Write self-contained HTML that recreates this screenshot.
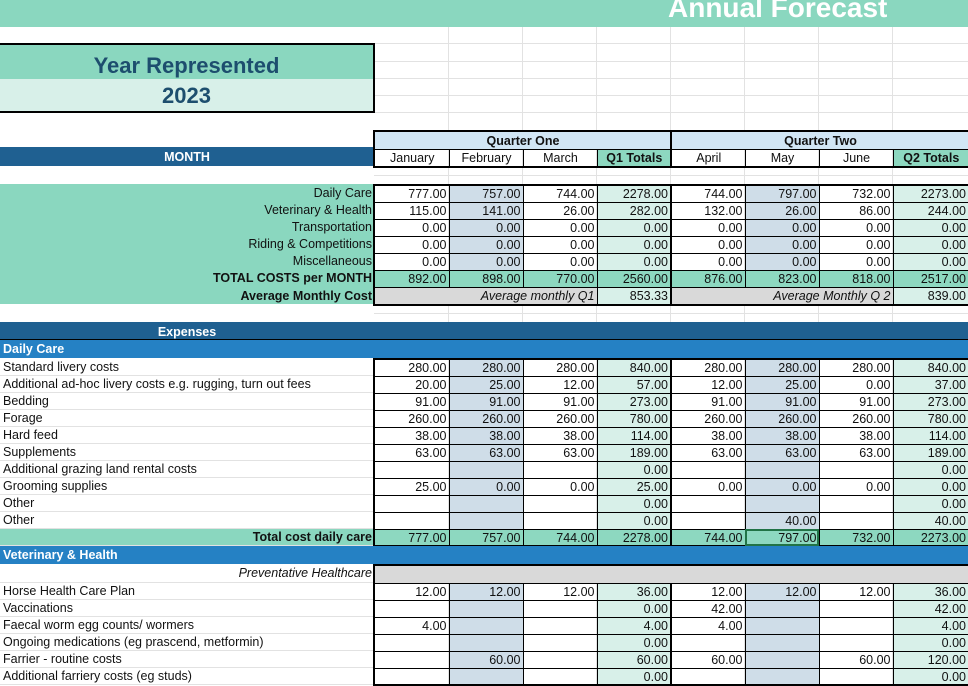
<!DOCTYPE html>
<html><head><meta charset="utf-8"><style>
*{margin:0;padding:0;box-sizing:border-box}
body{width:968px;height:686px;overflow:hidden;background:#fff;font-family:"Liberation Sans",sans-serif;font-size:12.5px;color:#111;position:relative}
.a{position:absolute}
.vl{position:absolute;top:26px;width:1px;height:660px;background:#e2e2e2}
.hl{position:absolute;left:374px;width:594px;height:1px;background:#e2e2e2}
table{border-collapse:collapse;table-layout:fixed;position:absolute}
td{padding:1px 2px 0 3px;line-height:14px;overflow:hidden;white-space:nowrap}
.v td{border:1px solid #000;text-align:right}
.v td.c1{border-left:2px solid #000}
.v td.c4{border-right:2px solid #000}
.v td.c8{border-right:2px solid #000}
.v tr:first-child td{border-top:2px solid #000}
.v tr:last-child td{border-bottom:2px solid #000}
.c2,.c6{background:#cfdde8}
.c4,.c8{background:#d8f0e9}
.tot td{background:#8dd8c0 !important}
.gray{background:#d9d9d9 !important;font-style:italic}
.l td{border-bottom:1px solid #e2e2e2}
.nl td{border:none}
</style></head><body>
<div class="vl" style="left:448px"></div><div class="vl" style="left:522px"></div><div class="vl" style="left:596px"></div><div class="vl" style="left:670px"></div><div class="vl" style="left:744px"></div><div class="vl" style="left:818px"></div><div class="vl" style="left:892px"></div>
<div class="hl" style="top:43px"></div><div class="hl" style="top:61px"></div><div class="hl" style="top:78px"></div><div class="hl" style="top:95px"></div><div class="hl" style="top:112px"></div><div class="hl" style="top:175px"></div><div class="hl" style="top:313px"></div>
<div class="a" style="left:0;top:0;width:968px;height:27px;background:#8ad7bf"></div>
<div class="a" style="left:668px;top:-8px;color:#fff;font-weight:bold;font-size:28px">Annual Forecast</div>

<div class="a" style="left:0;top:43px;width:375px;height:70px;border:2px solid #000;border-left:none">
<div style="height:34px;background:#8ad7bf;color:#1d4e6e;font-weight:bold;font-size:22px;text-align:center;line-height:42px">Year Represented</div>
<div style="height:32px;background:#d8f0e9;color:#1d4e6e;font-weight:bold;font-size:22px;text-align:center;line-height:34px">2023</div>
</div>

<div class="a" style="left:0;top:147px;width:374px;height:19px;background:#1f6091;color:#fff;font-weight:bold;text-align:center;line-height:20px">MONTH</div>
<table class="v" style="left:373px;top:130px;width:595px">
<colgroup><col style="width:75px"><col style="width:74px"><col style="width:74px"><col style="width:74px"><col style="width:74px"><col style="width:74px"><col style="width:74px"><col style="width:76px"></colgroup>
<tr style="height:18px"><td colspan="4" class="c1 c4" style="background:#d1e6f5;text-align:center;font-weight:bold">Quarter One</td><td colspan="4" class="c8" style="background:#d1e6f5;text-align:center;font-weight:bold">Quarter Two</td></tr>
<tr style="height:18px;text-align:center"><td class="c1" style="text-align:center">January</td><td style="text-align:center">February</td><td style="text-align:center">March</td><td class="c4" style="text-align:center;background:#8dd8c0;font-weight:bold">Q1 Totals</td><td style="text-align:center">April</td><td style="text-align:center">May</td><td style="text-align:center">June</td><td class="c8" style="text-align:center;background:#8dd8c0;font-weight:bold">Q2 Totals</td></tr>
</table>

<table class="nl" style="left:0;top:184px;width:374px;background:#8ad7bf;text-align:right">
<tr style="height:17px"><td style="text-align:right">Daily Care</td></tr>
<tr style="height:17px"><td style="text-align:right">Veterinary &amp; Health</td></tr>
<tr style="height:17px"><td style="text-align:right">Transportation</td></tr>
<tr style="height:17px"><td style="text-align:right">Riding &amp; Competitions</td></tr>
<tr style="height:17px"><td style="text-align:right">Miscellaneous</td></tr>
<tr style="height:17px"><td style="text-align:right;font-weight:bold">TOTAL COSTS per MONTH</td></tr>
<tr style="height:18px"><td style="text-align:right;font-weight:bold">Average Monthly Cost</td></tr>
</table>
<table class="v" style="left:373px;top:184px;width:595px">
<colgroup><col style="width:75px"><col style="width:74px"><col style="width:74px"><col style="width:74px"><col style="width:74px"><col style="width:74px"><col style="width:74px"><col style="width:76px"></colgroup>
<tr style="height:17px"><td class="c1">777.00</td><td class="c2">757.00</td><td>744.00</td><td class="c4">2278.00</td><td>744.00</td><td class="c6">797.00</td><td>732.00</td><td class="c8">2273.00</td></tr>
<tr style="height:17px"><td class="c1">115.00</td><td class="c2">141.00</td><td>26.00</td><td class="c4">282.00</td><td>132.00</td><td class="c6">26.00</td><td>86.00</td><td class="c8">244.00</td></tr>
<tr style="height:17px"><td class="c1">0.00</td><td class="c2">0.00</td><td>0.00</td><td class="c4">0.00</td><td>0.00</td><td class="c6">0.00</td><td>0.00</td><td class="c8">0.00</td></tr>
<tr style="height:17px"><td class="c1">0.00</td><td class="c2">0.00</td><td>0.00</td><td class="c4">0.00</td><td>0.00</td><td class="c6">0.00</td><td>0.00</td><td class="c8">0.00</td></tr>
<tr style="height:17px"><td class="c1">0.00</td><td class="c2">0.00</td><td>0.00</td><td class="c4">0.00</td><td>0.00</td><td class="c6">0.00</td><td>0.00</td><td class="c8">0.00</td></tr>
<tr style="height:17px" class="tot"><td class="c1">892.00</td><td>898.00</td><td>770.00</td><td class="c4">2560.00</td><td>876.00</td><td>823.00</td><td>818.00</td><td class="c8">2517.00</td></tr>
<tr style="height:18px"><td colspan="3" class="c1 gray">Average monthly Q1</td><td class="c4">853.33</td><td colspan="3" class="gray">Average Monthly Q 2</td><td class="c8">839.00</td></tr>
</table>

<div class="a" style="left:0;top:322px;width:968px;height:18px;background:#1f6091;color:#fff;font-weight:bold;line-height:20px;border-bottom:1px solid #000"><span style="position:absolute;left:0;width:374px;text-align:center">Expenses</span></div>
<div class="a" style="left:0;top:340px;width:968px;height:18px;background:#2581c4;color:#fff;font-weight:bold;line-height:19px;padding-left:3px">Daily Care</div>

<table class="l" style="left:0;top:358px;width:374px">
<tr style="height:17px"><td>Standard livery costs</td></tr>
<tr style="height:17px"><td>Additional ad-hoc livery costs e.g. rugging, turn out fees</td></tr>
<tr style="height:17px"><td>Bedding</td></tr>
<tr style="height:17px"><td>Forage</td></tr>
<tr style="height:17px"><td>Hard feed</td></tr>
<tr style="height:17px"><td>Supplements</td></tr>
<tr style="height:17px"><td>Additional grazing land rental costs</td></tr>
<tr style="height:17px"><td>Grooming supplies</td></tr>
<tr style="height:17px"><td>Other</td></tr>
<tr style="height:17px"><td>Other</td></tr>
<tr style="height:17px;background:#8ad7bf"><td style="text-align:right;font-weight:bold">Total cost daily care</td></tr>
</table>
<table class="v" style="left:373px;top:358px;width:595px">
<colgroup><col style="width:75px"><col style="width:74px"><col style="width:74px"><col style="width:74px"><col style="width:74px"><col style="width:74px"><col style="width:74px"><col style="width:76px"></colgroup>
<tr style="height:17px"><td class="c1">280.00</td><td class="c2">280.00</td><td>280.00</td><td class="c4">840.00</td><td>280.00</td><td class="c6">280.00</td><td>280.00</td><td class="c8">840.00</td></tr>
<tr style="height:17px"><td class="c1">20.00</td><td class="c2">25.00</td><td>12.00</td><td class="c4">57.00</td><td>12.00</td><td class="c6">25.00</td><td>0.00</td><td class="c8">37.00</td></tr>
<tr style="height:17px"><td class="c1">91.00</td><td class="c2">91.00</td><td>91.00</td><td class="c4">273.00</td><td>91.00</td><td class="c6">91.00</td><td>91.00</td><td class="c8">273.00</td></tr>
<tr style="height:17px"><td class="c1">260.00</td><td class="c2">260.00</td><td>260.00</td><td class="c4">780.00</td><td>260.00</td><td class="c6">260.00</td><td>260.00</td><td class="c8">780.00</td></tr>
<tr style="height:17px"><td class="c1">38.00</td><td class="c2">38.00</td><td>38.00</td><td class="c4">114.00</td><td>38.00</td><td class="c6">38.00</td><td>38.00</td><td class="c8">114.00</td></tr>
<tr style="height:17px"><td class="c1">63.00</td><td class="c2">63.00</td><td>63.00</td><td class="c4">189.00</td><td>63.00</td><td class="c6">63.00</td><td>63.00</td><td class="c8">189.00</td></tr>
<tr style="height:17px"><td class="c1"></td><td class="c2"></td><td></td><td class="c4">0.00</td><td></td><td class="c6"></td><td></td><td class="c8">0.00</td></tr>
<tr style="height:17px"><td class="c1">25.00</td><td class="c2">0.00</td><td>0.00</td><td class="c4">25.00</td><td>0.00</td><td class="c6">0.00</td><td>0.00</td><td class="c8">0.00</td></tr>
<tr style="height:17px"><td class="c1"></td><td class="c2"></td><td></td><td class="c4">0.00</td><td></td><td class="c6"></td><td></td><td class="c8">0.00</td></tr>
<tr style="height:17px"><td class="c1"></td><td class="c2"></td><td></td><td class="c4">0.00</td><td></td><td class="c6">40.00</td><td></td><td class="c8">40.00</td></tr>
<tr style="height:17px" class="tot"><td class="c1">777.00</td><td>757.00</td><td>744.00</td><td class="c4">2278.00</td><td>744.00</td><td style="outline:2px solid #217346;outline-offset:-2px">797.00</td><td>732.00</td><td class="c8">2273.00</td></tr>
</table>

<div class="a" style="left:0;top:546px;width:968px;height:18px;background:#2581c4;color:#fff;font-weight:bold;line-height:19px;padding-left:3px">Veterinary &amp; Health</div>

<table class="l" style="left:0;top:564px;width:374px">
<tr style="height:18px"><td style="text-align:right;font-style:italic">Preventative Healthcare</td></tr>
<tr style="height:17px"><td>Horse Health Care Plan</td></tr>
<tr style="height:17px"><td>Vaccinations</td></tr>
<tr style="height:17px"><td>Faecal worm egg counts/ wormers</td></tr>
<tr style="height:17px"><td>Ongoing medications (eg prascend, metformin)</td></tr>
<tr style="height:17px"><td>Farrier - routine costs</td></tr>
<tr style="height:17px"><td>Additional farriery costs (eg studs)</td></tr>
</table>
<table class="v" style="left:373px;top:564px;width:595px">
<colgroup><col style="width:75px"><col style="width:74px"><col style="width:74px"><col style="width:74px"><col style="width:74px"><col style="width:74px"><col style="width:74px"><col style="width:76px"></colgroup>
<tr style="height:18px"><td colspan="8" class="c1 c8" style="background:#d9d9d9"></td></tr>
<tr style="height:17px"><td class="c1">12.00</td><td class="c2">12.00</td><td>12.00</td><td class="c4">36.00</td><td>12.00</td><td class="c6">12.00</td><td>12.00</td><td class="c8">36.00</td></tr>
<tr style="height:17px"><td class="c1"></td><td class="c2"></td><td></td><td class="c4">0.00</td><td>42.00</td><td class="c6"></td><td></td><td class="c8">42.00</td></tr>
<tr style="height:17px"><td class="c1">4.00</td><td class="c2"></td><td></td><td class="c4">4.00</td><td>4.00</td><td class="c6"></td><td></td><td class="c8">4.00</td></tr>
<tr style="height:17px"><td class="c1"></td><td class="c2"></td><td></td><td class="c4">0.00</td><td></td><td class="c6"></td><td></td><td class="c8">0.00</td></tr>
<tr style="height:17px"><td class="c1"></td><td class="c2">60.00</td><td></td><td class="c4">60.00</td><td>60.00</td><td class="c6"></td><td>60.00</td><td class="c8">120.00</td></tr>
<tr style="height:17px"><td class="c1"></td><td class="c2"></td><td></td><td class="c4">0.00</td><td></td><td class="c6"></td><td></td><td class="c8">0.00</td></tr>
</table>
</body></html>
